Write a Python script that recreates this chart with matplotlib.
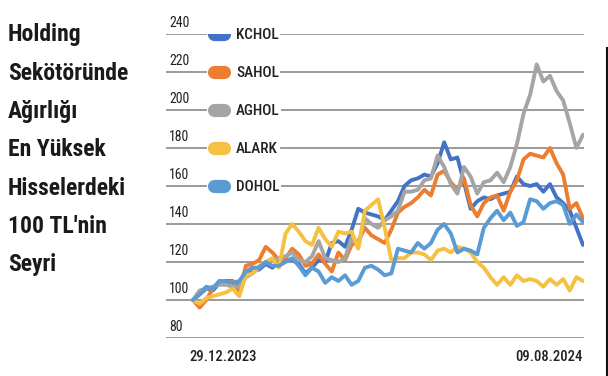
import matplotlib
matplotlib.use("Agg")
import matplotlib.pyplot as plt
from matplotlib import font_manager as fm
import numpy as np

# ── Data (100 TL invested on 29.12.2023) ──────────────────────────────────────
series_names = ["KCHOL", "SAHOL", "AGHOL", "ALARK", "DOHOL"]
series_colors = ["#4472C4", "#ED7D31", "#A5A5A5", "#F5C142", "#5B9BD5"]

kchol = [100, 103, 106, 105, 109, 110, 110, 107, 113, 116, 116, 119, 117, 120, 121,
         121, 119, 114, 117, 121, 120, 130, 131, 128, 137, 148, 146, 145, 144, 142,
         147, 152, 160, 163, 164, 166, 165, 172, 183, 174, 175, 162, 148, 152, 154,
         153, 155, 156, 157, 165, 161, 160, 161, 157, 161, 154, 151, 147, 138, 129]
sahol = [100, 96, 100, 106, 110, 109, 110, 104, 118, 119, 121, 128, 125, 121, 122,
         127, 124, 118, 119, 124, 119, 115, 125, 121, 129, 131, 138, 134, 132, 130,
         137, 146, 149, 151, 154, 158, 155, 166, 168, 162, 158, 164, 150, 144, 151,
         154, 155, 147, 157, 163, 174, 177, 176, 175, 180, 172, 166, 148, 151, 143]
aghol = [100, 105, 106, 107, 108, 108, 107, 107, 112, 114, 117, 120, 121, 122, 123,
         125, 121, 120, 123, 131, 122, 121, 120, 122, 133, 128, 143, 140, 138, 142,
         144, 147, 157, 157, 158, 163, 164, 176, 170, 161, 156, 170, 165, 156, 162,
         163, 167, 162, 170, 182, 198, 208, 224, 215, 218, 210, 205, 193, 180, 187]
alark = [100, 98, 101, 102, 103, 104, 106, 102, 113, 114, 118, 120, 122, 117, 135,
         140, 136, 131, 129, 138, 132, 128, 136, 135, 136, 127, 147, 150, 153, 138,
         121, 122, 122, 125, 125, 124, 121, 126, 127, 125, 128, 127, 125, 120, 117,
         112, 108, 112, 108, 113, 110, 111, 110, 107, 111, 108, 111, 105, 112, 110]
dohol = [100, 103, 107, 106, 110, 110, 109, 110, 115, 117, 117, 120, 118, 118, 120,
         122, 118, 113, 117, 115, 109, 112, 110, 113, 108, 110, 117, 118, 116, 113,
         114, 127, 126, 125, 130, 127, 130, 137, 140, 135, 125, 127, 126, 124, 138,
         143, 147, 142, 146, 139, 141, 153, 152, 148, 151, 152, 150, 140, 145, 141]
series_values = [kchol, sahol, aghol, alark, dohol]

y_ticks = [80, 100, 120, 140, 160, 180, 200, 220, 240]
start_label, end_label = "29.12.2023", "09.08.2024"
title_lines = ["Holding", "Sekötöründe", "Ağırlığı", "En Yüksek",
               "Hisselerdeki", "100 TL'nin", "Seyri"]

# ── Style ─────────────────────────────────────────────────────────────────────
# pick a narrow face if one is around
installed = {f.name for f in fm.fontManager.ttflist}
narrow = [f for f in ["Liberation Sans Narrow", "Roboto Condensed", "Open Sans Condensed"]
          if f in installed]
FONT = narrow[:1] + ["DejaVu Sans"]
STRETCH = "normal" if narrow else "condensed"

GRID = "#9A9A9A"
TEXT = "#222222"
W, H = 608, 376
L, R = 166, 584   # gridline extent in px

fig = plt.figure(figsize=(W / 100, H / 100), dpi=100, facecolor="white")
ax = fig.add_axes([L / W, 1 - 338 / H, (R - L) / W, (338 - 34) / H])
ax.set_facecolor("white")

n = len(kchol)
x = np.arange(n)
px_per_step = (583 - 193) / (n - 1)
ax.set_xlim(-(193 - L) / px_per_step, (n - 1) + 1 / px_per_step)
ax.set_ylim(80, 240)

def fx(px):
    return (px - L) / (R - L)

trans = ax.get_yaxis_transform()
legend_rows = [y_ticks[-1] - 20 * i for i in range(len(series_names))]

for v in y_ticks:
    if v in legend_rows:
        # gridline broken where the legend entry sits
        ax.axhline(v, xmin=0, xmax=fx(206), color=GRID, lw=1.4, zorder=1)
        ax.axhline(v, xmin=fx(281), xmax=1, color=GRID, lw=1.4, zorder=1)
    else:
        ax.axhline(v, color=GRID, lw=1.4, zorder=1)
    ax.text(fx(169), v + 3.6, str(v), transform=trans, ha="left", va="baseline",
            fontsize=10, color=TEXT, family=FONT, fontstretch=STRETCH)

for vals, col in zip(series_values, series_colors):
    ax.plot(x, vals, color=col, lw=2.8, solid_joinstyle="round",
            solid_capstyle="round", zorder=3)

for name, col, yv in zip(series_names, series_colors, legend_rows):
    ax.plot([fx(214), fx(224)], [yv, yv], transform=trans, color=col, lw=9.5,
            solid_capstyle="round", zorder=4)
    ax.text(fx(236), yv - 0.3, name, transform=trans, ha="left", va="center",
            fontsize=11, fontweight="medium", color=TEXT, family=FONT,
            fontstretch=STRETCH, zorder=5,
            bbox=dict(facecolor="white", edgecolor="none", pad=1.0))

for s in ax.spines.values():
    s.set_visible(False)
ax.set_xticks([])
ax.set_yticks([])

fig.text(223 / W, 1 - 357 / H, start_label, ha="center", va="center",
         fontsize=10.5, fontweight="medium", color=TEXT, family=FONT,
         fontstretch=STRETCH)
fig.text(583 / W, 1 - 357 / H, end_label, ha="right", va="center",
         fontsize=10.5, fontweight="medium", color=TEXT, family=FONT,
         fontstretch=STRETCH)

title_y = [33, 72, 110, 148, 187, 225, 263]
for line, ty in zip(title_lines, title_y):
    fig.text(8 / W, 1 - (ty + 8) / H, line, ha="left", va="baseline", fontsize=17,
             fontweight="bold", color="#1a1a1a", family=FONT, fontstretch=STRETCH)

fig.add_artist(plt.Line2D([607 / W, 607 / W], [0, 1 - 48 / H],
                          color="#111111", lw=1.5))

fig.savefig("out.png", dpi=100, facecolor="white")
